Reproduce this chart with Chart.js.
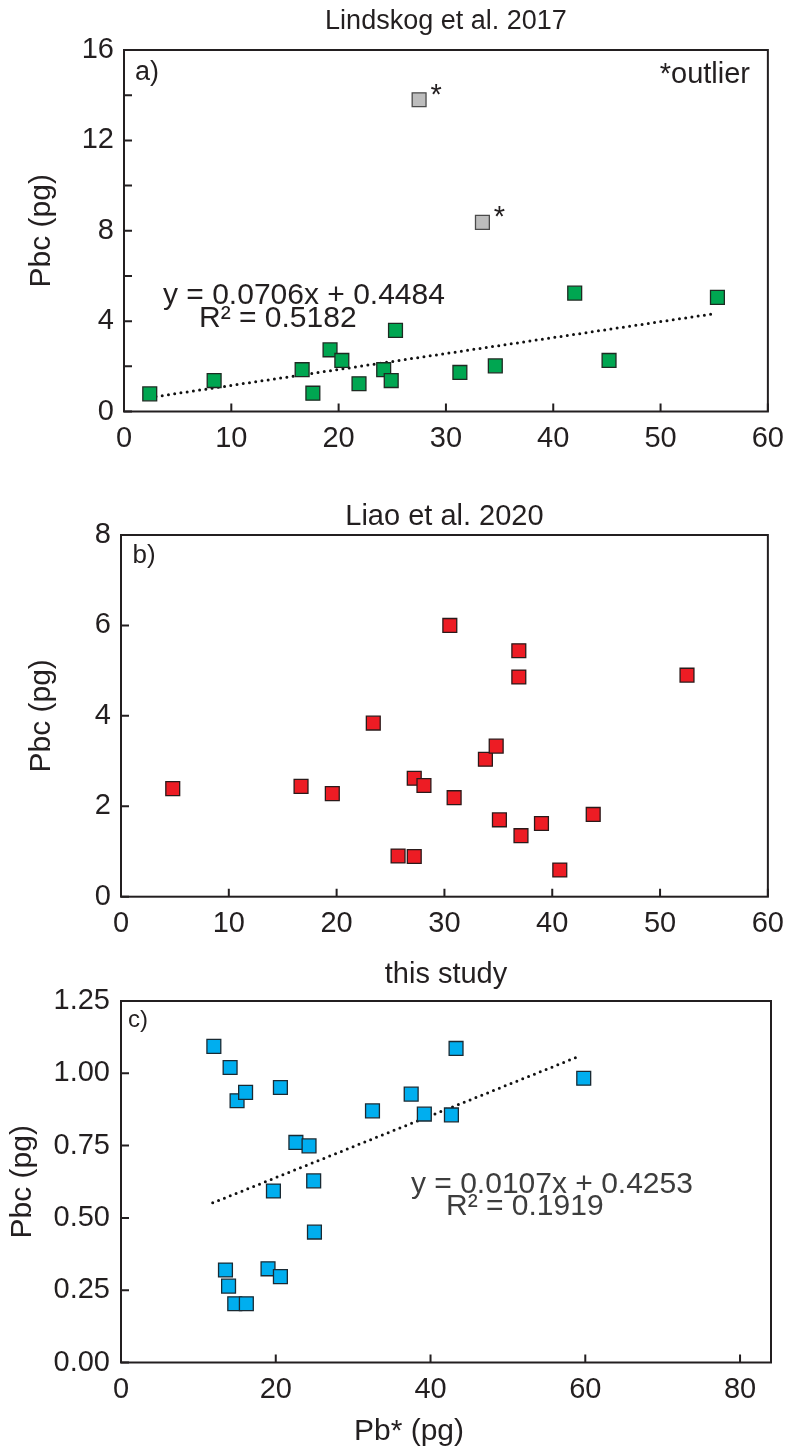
<!DOCTYPE html>
<html><head><meta charset="utf-8">
<script src="https://cdn.jsdelivr.net/npm/chart.js@4.4.1/dist/chart.umd.min.js"></script>
<style>
html,body{margin:0;padding:0;background:#fff;width:794px;height:1447px;overflow:hidden}
canvas{position:absolute;left:0;display:block}
</style></head><body>
<canvas id="cA" width="794" height="470" style="top:0px"></canvas>
<canvas id="cB" width="794" height="480" style="top:470px"></canvas>
<canvas id="cC" width="794" height="497" style="top:950px"></canvas>
<script>
// ---------- data ----------
const lindskogPb  = [2.4, 8.4, 16.6, 17.6, 19.2, 20.3, 21.9, 24.2, 24.9, 25.3, 31.3, 34.6, 42.0, 45.2, 55.3];
const lindskogPbc = [0.78, 1.37, 1.85, 0.81, 2.73, 2.26, 1.23, 1.85, 1.37, 3.59, 1.73, 2.02, 5.24, 2.26, 5.05];
const outlierPb   = [27.5, 33.4];
const outlierPbc  = [13.8, 8.37];
const lindskogFitX = [2.4, 55.0];
const lindskogFitY = [0.62, 4.33];

const liaoPb  = [4.8, 16.7, 19.6, 23.4, 25.7, 27.2, 27.2, 28.1, 30.9, 33.8, 34.8, 35.1, 37.1, 39.0, 40.7, 43.8, 36.9, 52.5, 30.5, 36.9];
const liaoPbc = [2.39, 2.44, 2.28, 3.84, 0.90, 0.89, 2.62, 2.46, 2.19, 3.04, 3.33, 1.70, 1.35, 1.62, 0.59, 1.82, 4.86, 4.90, 6.00, 5.44];

const studyPb  = [12.0, 14.1, 15.0, 16.1, 20.6, 43.3, 59.8, 37.5, 32.5, 39.2, 42.7, 22.6, 24.3, 24.9, 19.7, 25.0, 13.5, 19.0, 20.6, 13.9, 14.7, 16.2];
const studyPbc = [1.093, 1.020, 0.905, 0.934, 0.951, 1.086, 0.983, 0.928, 0.870, 0.859, 0.856, 0.761, 0.749, 0.628, 0.593, 0.451, 0.320, 0.324, 0.297, 0.264, 0.203, 0.203];
const studyFitX = [11.85, 59.4];
const studyFitY = [0.552, 1.061];

// tick labels
const xTicksAB = [0, 10, 20, 30, 40, 50, 60];
const yTicksA = [0, 2, 4, 6, 8, 10, 12, 14, 16];
const yLabelsA = [0, 4, 8, 12, 16];
const yTicksB = [0, 2, 4, 6, 8];
const xTicksC = [0, 20, 40, 60, 80];
const yTicksC = [0, 0.25, 0.5, 0.75, 1.0, 1.25];

const titles = ['Lindskog et al. 2017', 'Liao et al. 2020', 'this study'];
const yTitle = 'Pbc (pg)';
const xTitle = 'Pb* (pg)';
const eqA = ['y = 0.0706x + 0.4484', 'R\u00B2 = 0.5182'];
const eqC = ['y = 0.0107x + 0.4253', 'R\u00B2 = 0.1919'];

// ---------- style ----------
const FONT = "'Liberation Sans', Arial, Helvetica, sans-serif";
const INK = '#231f20';

const pts = (xs, ys) => xs.map((x, i) => ({x, y: ys[i]}));

const framePlugin = {
  id: 'frame',
  afterDraw(chart, args, opts) {
    const {ctx, chartArea: a, scales: {x, y}} = chart;
    ctx.save();
    ctx.strokeStyle = INK;
    ctx.lineWidth = 2;
    ctx.strokeRect(a.left, a.top, a.right - a.left, a.bottom - a.top);
    ctx.beginPath();
    y.ticks.forEach(t => { const p = y.getPixelForValue(t.value); ctx.moveTo(a.left, p); ctx.lineTo(a.left + 8, p); });
    x.ticks.forEach(t => { const p = x.getPixelForValue(t.value); ctx.moveTo(p, a.bottom); ctx.lineTo(p, a.bottom - 8); });
    ctx.stroke();
    (opts.notes || []).forEach(n => {
      ctx.font = (n.size || 29) + 'px ' + FONT;
      ctx.fillStyle = n.color || INK;
      ctx.textAlign = n.align || 'left';
      ctx.textBaseline = 'alphabetic';
      let px = n.x, py = n.y;
      if (n.dataX !== undefined) { px = x.getPixelForValue(n.dataX) + n.dx; py = y.getPixelForValue(n.dataY) + n.dy; }
      ctx.fillText(n.text, px, py);
    });
    ctx.restore();
  }
};

function scatterSet(xs, ys, fill, border) {
  return {
    data: pts(xs, ys), pointStyle: 'rect', pointRadius: 9.8, pointHoverRadius: 9.8,
    backgroundColor: fill, borderColor: border, borderWidth: 1.3, order: 0
  };
}
function fitSet(xs, ys) {
  return {
    data: pts(xs, ys), showLine: true, pointRadius: 0, borderColor: '#111',
    borderWidth: 3, borderDash: [0, 6.3], borderCapStyle: 'round', order: 5
  };
}

function makeChart(id, o) {
  return new Chart(document.getElementById(id), {
    type: 'scatter',
    data: {datasets: o.datasets},
    options: {
      responsive: false, animation: false, devicePixelRatio: 1,
      layout: {padding: {left: 0, right: o.padRight, top: 0, bottom: o.padBottom}},
      plugins: {
        legend: {display: false}, tooltip: {enabled: false},
        title: {display: true, text: o.title, fullSize: false, color: INK,
                font: {family: FONT, size: o.titleSize, weight: 'normal', lineHeight: 1.2},
                padding: {top: o.titleTop, bottom: o.titleBottom}},
        frame: {notes: o.notes}
      },
      scales: {
        x: {
          type: 'linear', min: o.xMin, max: o.xMax,
          afterBuildTicks: s => { s.ticks = o.xTicks.map(v => ({value: v})); },
          afterFit: s => { s.height = 45; },
          grid: {display: false, drawTicks: false, drawOnChartArea: false},
          border: {display: false},
          ticks: {padding: 10, color: INK, font: {family: FONT, size: 29}, maxRotation: 0,
                  includeBounds: false, callback: v => String(v)}
        },
        y: {
          type: 'linear', min: o.yMin, max: o.yMax,
          afterBuildTicks: s => { s.ticks = o.yTicks.map(v => ({value: v})); },
          afterFit: s => { s.width = o.left; },
          grid: {display: false, drawTicks: false, drawOnChartArea: false},
          border: {display: false},
          ticks: {padding: o.yPad, color: INK, font: {family: FONT, size: 29},
                  includeBounds: false, callback: o.yCb},
          title: {display: true, text: yTitle, color: INK,
                  font: {family: FONT, size: 30, lineHeight: 1.2},
                  padding: {top: o.yTitlePad, bottom: 0}}
        }
      }
    },
    plugins: [framePlugin]
  });
}

makeChart('cA', {
  title: titles[0], titleSize: 27, titleTop: 5, titleBottom: 12.6, padRight: 25.5, padBottom: 13.5,
  left: 124, yPad: 10, yTitlePad: 24,
  xMin: 0, xMax: 60, xTicks: xTicksAB, yMin: 0, yMax: 16, yTicks: yTicksA,
  yCb: v => yLabelsA.includes(v) ? String(v) : '',
  datasets: [
    scatterSet(lindskogPb, lindskogPbc, '#00A651', '#1e2a22'),
    scatterSet(outlierPb, outlierPbc, '#BDBDBD', '#4a4a4a'),
    fitSet(lindskogFitX, lindskogFitY)
  ],
  notes: [
    {text: 'a)', x: 135, y: 80, size: 27},
    {text: '*outlier', x: 750, y: 83, size: 29, align: 'right'},
    {text: eqA[0], x: 163, y: 304, size: 30},
    {text: eqA[1], x: 199, y: 327, size: 30},
    {text: '*', dataX: outlierPb[0], dataY: outlierPbc[0], dx: 17, dy: 4, size: 29, align: 'center'},
    {text: '*', dataX: outlierPb[1], dataY: outlierPbc[1], dx: 17, dy: 4, size: 29, align: 'center'}
  ]
});

makeChart('cB', {
  title: titles[1], titleSize: 29, titleTop: 29.1, titleBottom: 1.1, padRight: 24, padBottom: 8.3,
  left: 121, yPad: 10, yTitlePad: 24,
  xMin: 0, xMax: 60, xTicks: xTicksAB, yMin: 0, yMax: 8, yTicks: yTicksB,
  yCb: v => String(v),
  datasets: [scatterSet(liaoPb, liaoPbc, '#ED1C24', '#2a1a1a')],
  notes: [{text: 'b)', x: 132.5, y: 93, size: 26}]
});

makeChart('cC', {
  title: titles[2], titleSize: 29, titleTop: 7.6, titleBottom: 8.6, padRight: 23, padBottom: 39.5,
  left: 121, yPad: 11, yTitlePad: 5,
  xMin: 0, xMax: 84, xTicks: xTicksC, yMin: 0, yMax: 1.25, yTicks: yTicksC,
  yCb: v => v.toFixed(2),
  datasets: [
    scatterSet(studyPb, studyPbc, '#00AEEF', '#1a2a33'),
    fitSet(studyFitX, studyFitY)
  ],
  notes: [
    {text: 'c)', x: 128, y: 76.7, size: 24},
    {text: eqC[0], x: 411, y: 243, size: 30, color: '#3d3d3d'},
    {text: eqC[1], x: 446, y: 265, size: 30, color: '#3d3d3d'},
    {text: xTitle, x: 409, y: 489.5, size: 30, align: 'center'}
  ]
});
</script>
</body></html>
